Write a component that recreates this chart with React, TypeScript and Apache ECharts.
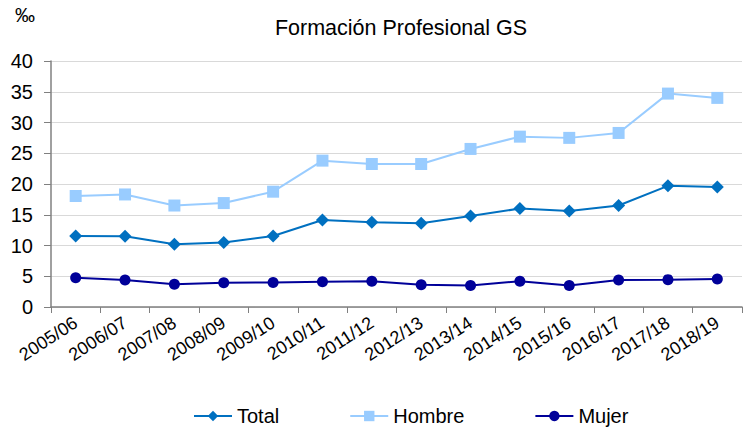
import React, { useEffect, useRef } from "react";
import * as echarts from "echarts";

const categories = ["2005/06","2006/07","2007/08","2008/09","2009/10","2010/11","2011/12","2012/13","2013/14","2014/15","2015/16","2016/17","2017/18","2018/19"];
const total = [11.55, 11.5, 10.2, 10.5, 11.55, 14.15, 13.8, 13.6, 14.8, 16.0, 15.6, 16.5, 19.7, 19.5];
const hombre = [18.05, 18.3, 16.5, 16.9, 18.75, 23.8, 23.25, 23.25, 25.7, 27.7, 27.5, 28.3, 34.7, 34.0];
const mujer = [4.77, 4.4, 3.7, 3.95, 4.0, 4.1, 4.2, 3.6, 3.5, 4.2, 3.5, 4.4, 4.45, 4.55];

const FONT = "'Liberation Sans', Arial, sans-serif";

export default function App() {
  const ref = useRef<HTMLDivElement>(null);
  useEffect(() => {
    const chart = echarts.init(ref.current!, null, { renderer: "svg" });
    chart.setOption({
      animation: false,
      backgroundColor: "#ffffff",
      textStyle: { fontFamily: FONT },
      title: {
        text: "Formación Profesional GS",
        left: 396,
        top: 12,
        textAlign: "center",
        textStyle: { fontFamily: FONT, fontSize: 21.5, fontWeight: "normal", color: "#000" },
      },
      graphic: [
        { type: "text", left: 15, top: 5, style: { text: "‰", fontFamily: FONT, fontSize: 20, fill: "#000" } },
      ],
      legend: {
        top: 401,
        left: 188,
        itemWidth: 38,
        itemHeight: 13,
        itemGap: 70,
        textStyle: { fontFamily: FONT, fontSize: 20, color: "#000" },
        data: ["Total", "Hombre", "Mujer"],
      },
      grid: { left: 51, top: 61, width: 691, bottom: 121, containLabel: false },
      xAxis: {
        type: "category",
        data: categories,
        boundaryGap: true,
        axisLine: { lineStyle: { color: "#808080", width: 1.5 } },
        axisTick: { show: true, alignWithLabel: false, length: 6, lineStyle: { color: "#808080" } },
        axisLabel: { rotate: 33, fontFamily: FONT, fontSize: 18, color: "#000", margin: 14, interval: 0 },
      },
      yAxis: {
        type: "value",
        min: 0,
        max: 40,
        interval: 5,
        axisLine: { show: true, lineStyle: { color: "#808080", width: 1.5 } },
        axisTick: { show: true, length: 7, inside: false, lineStyle: { color: "#808080" } },
        axisLabel: { fontFamily: FONT, fontSize: 20, color: "#000", margin: 18 },
        splitLine: { lineStyle: { color: "#d9d9d9", width: 1 } },
      },
      series: [
        {
          name: "Total", type: "line", data: total,
          symbol: "diamond", symbolSize: 13,
          lineStyle: { color: "#0070C0", width: 2 },
          itemStyle: { color: "#0070C0" },
        },
        {
          name: "Hombre", type: "line", data: hombre,
          symbol: "rect", symbolSize: 12,
          lineStyle: { color: "#99CCFF", width: 2 },
          itemStyle: { color: "#99CCFF" },
        },
        {
          name: "Mujer", type: "line", data: mujer,
          symbol: "circle", symbolSize: 11,
          lineStyle: { color: "#000099", width: 2 },
          itemStyle: { color: "#000099" },
        },
      ],
    });
    return () => chart.dispose();
  }, []);
  return <div ref={ref} style={{ width: 747, height: 428, position: "absolute", left: 0, top: 0 }} />;
}
